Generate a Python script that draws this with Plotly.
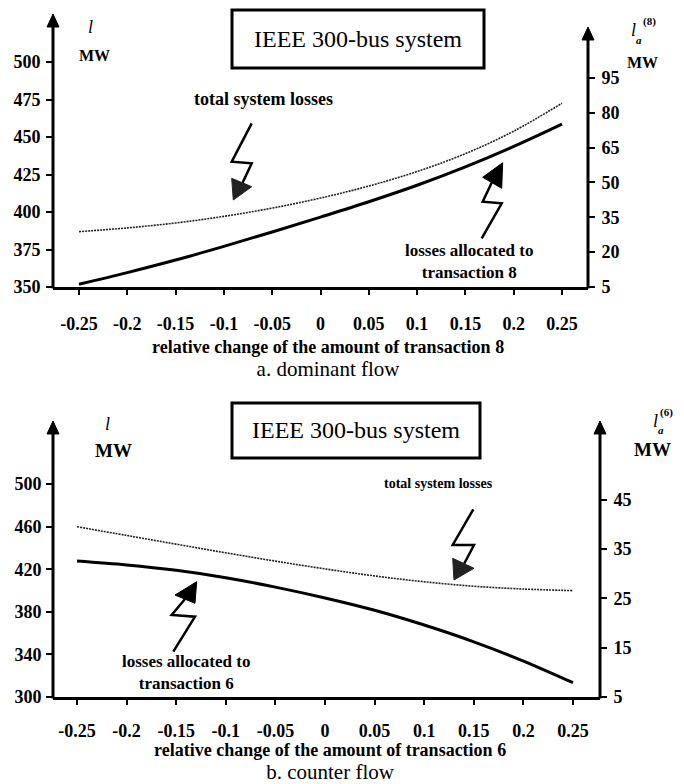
import plotly.graph_objects as go

# ---------------- data ----------------
x_vals = [-0.25, -0.2, -0.15, -0.1, -0.05, 0.0, 0.05, 0.1, 0.15, 0.2, 0.25]

# a. dominant flow (transaction 8)
total_losses_a = [386.9, 389.4, 392.7, 397.1, 402.6, 409.3, 417.3, 427.0, 438.9, 453.9, 472.5]
alloc_losses_a = [6.2, 11.2, 16.6, 22.5, 28.7, 35.1, 41.7, 48.8, 56.7, 65.5, 75.1]

# b. counter flow (transaction 6)
total_losses_b = [459.9, 451.7, 443.5, 435.4, 427.6, 420.3, 413.7, 408.2, 404.0, 401.4, 399.9]
alloc_losses_b = [32.6, 31.8, 30.7, 29.2, 27.3, 25.1, 22.6, 19.6, 16.2, 12.3, 7.9]

x_tick_vals = [-0.25, -0.2, -0.15, -0.1, -0.05, 0, 0.05, 0.1, 0.15, 0.2, 0.25]
x_tick_text = ["-0.25", "-0.2", "-0.15", "-0.1", "-0.05", "0", "0.05", "0.1", "0.15", "0.2", "0.25"]
ya_left_ticks = [350, 375, 400, 425, 450, 475, 500]
ya_right_ticks = [5, 20, 35, 50, 65, 80, 95]
yb_left_ticks = [300, 340, 380, 420, 460, 500]
yb_right_ticks = [5, 15, 25, 35, 45]

# ---------------- figure ----------------
W, H = 684, 784
FONT = "Liberation Serif"


def px(x):
    return x / W


def py(y):
    return 1 - y / H


def path(points, close=False):
    s = "M " + " L ".join(f"{px(a):.5f} {py(b):.5f}" for a, b in points)
    return s + (" Z" if close else "")


fig = go.Figure()

total_style = dict(color="#222222", width=1.6, dash="2px,1px", shape="spline")
alloc_style = dict(color="black", width=3, shape="spline")

fig.add_trace(go.Scatter(x=x_vals, y=total_losses_a, mode="lines", line=total_style,
                         xaxis="x", yaxis="y", hoverinfo="skip"))
fig.add_trace(go.Scatter(x=x_vals, y=alloc_losses_a, mode="lines", line=alloc_style,
                         xaxis="x", yaxis="y2", hoverinfo="skip"))
fig.add_trace(go.Scatter(x=x_vals, y=total_losses_b, mode="lines", line=total_style,
                         xaxis="x2", yaxis="y3", hoverinfo="skip"))
fig.add_trace(go.Scatter(x=x_vals, y=alloc_losses_b, mode="lines", line=alloc_style,
                         xaxis="x2", yaxis="y4", hoverinfo="skip"))

tickfont = dict(family=FONT, size=18, color="black", weight="bold")

common_x = dict(tickvals=x_tick_vals, ticktext=x_tick_text, ticks="outside", ticklen=5,
                tickwidth=2, tickcolor="black", showline=True, linewidth=3, linecolor="black",
                showgrid=False, zeroline=False, tickfont=tickfont, fixedrange=True,
                automargin=False)
common_y = dict(ticks="outside", ticklen=6, tickwidth=2, tickcolor="black", showline=False,
                showgrid=False, zeroline=False, tickfont=tickfont, fixedrange=True,
                automargin=False)

fig.update_layout(
    width=W, height=H, autosize=False,
    margin=dict(l=0, r=0, t=0, b=0, pad=0),
    paper_bgcolor="white", plot_bgcolor="white",
    showlegend=False,
    xaxis=dict(domain=[px(53), px(588)], anchor="y", range=[-0.2769, 0.2769],
               ticklabelstandoff=13, **common_x),
    yaxis=dict(domain=[py(287), py(15)], anchor="x", range=[350, 531.33],
               tickvals=ya_left_ticks, ticklabelstandoff=2, **common_y),
    yaxis2=dict(overlaying="y", side="right", anchor="x", range=[5, 122.1],
                tickvals=ya_right_ticks, ticklabelstandoff=3, **common_y),
    xaxis2=dict(domain=[px(53), px(600)], anchor="y3", range=[-0.2742, 0.2772],
                ticklabelstandoff=10, **common_x),
    yaxis3=dict(domain=[py(697), py(423)], anchor="x2", range=[300, 557.3],
                tickvals=yb_left_ticks, ticklabelstandoff=1, **common_y),
    yaxis4=dict(overlaying="y3", side="right", anchor="x2", range=[5, 60.6],
                tickvals=yb_right_ticks, ticklabelstandoff=3, **common_y),
)

shapes = []


def vline_arrow(x, y0, ytip, half=6, head=13):
    shapes.append(dict(type="line", xref="paper", yref="paper", x0=px(x), x1=px(x),
                       y0=py(y0), y1=py(ytip + head - 2), line=dict(color="black", width=3)))
    shapes.append(dict(type="path", xref="paper", yref="paper",
                       path=path([(x - half, ytip + head), (x, ytip), (x + half, ytip + head)], True),
                       fillcolor="black", line=dict(color="black", width=1)))


vline_arrow(53, 288.5, 14)
vline_arrow(588, 288.5, 27)
vline_arrow(53, 698.5, 421)
vline_arrow(600, 698.5, 421)


def lightning(points, tri, color="black"):
    shapes.append(dict(type="path", xref="paper", yref="paper", path=path(points),
                       line=dict(color="black", width=2.5)))
    shapes.append(dict(type="path", xref="paper", yref="paper", path=path(tri, True),
                       fillcolor=color, line=dict(color=color, width=1)))


lightning([(251.7, 123.3), (231.7, 161.7), (251.7, 163.3), (242, 184)],
          [(231.7, 178.3), (251.7, 186.7), (233.3, 200)], "#222222")
lightning([(481.7, 238.3), (501.7, 203.3), (482.7, 201.7), (492, 182)],
          [(502.7, 162.7), (482.7, 177.3), (501.7, 188.3)])
lightning([(473.3, 509.3), (452.7, 545), (474, 545), (464, 564)],
          [(452.7, 558.3), (474, 568.3), (454, 580)], "#222222")
lightning([(173.3, 651.7), (195, 616.7), (171.7, 615), (185, 599)],
          [(196.7, 581.7), (175, 595), (195, 603.3)])

# title boxes
shapes.append(dict(type="rect", xref="paper", yref="paper", x0=px(232), x1=px(484),
                   y0=py(68), y1=py(10), line=dict(color="black", width=3)))
shapes.append(dict(type="rect", xref="paper", yref="paper", x0=px(232), x1=px(480),
                   y0=py(458), y1=py(403), line=dict(color="black", width=3)))

fig.update_layout(shapes=shapes)

annotations = []


def text(x, y, s, size=17, bold=False, xanchor="center"):
    annotations.append(dict(xref="paper", yref="paper", x=px(x), y=py(y), text=s,
                            showarrow=False, xanchor=xanchor, yanchor="middle",
                            font=dict(family=FONT, size=size, color="black",
                                      weight="bold" if bold else "normal")))


CAPTION = "<br><span style='font-size:21px;font-weight:normal'>{}</span>"

# top panel texts
text(358, 39, "IEEE 300-bus system", 24)
text(263, 99, "total system losses", 18, True)
text(469, 261, "losses allocated to<br>transaction 8", 17, True)
text(328, 359, "relative change of the amount of transaction 8" + CAPTION.format("a. dominant flow"),
     18, True)
text(90, 27, "<i>l</i>", 18)
text(94, 55, "MW", 16, True)
text(633, 30, "<i>l</i>", 18)
text(649, 21, "(8)", 11, True)
text(639, 40, "<i>a</i>", 11, True)
text(642, 62, "MW", 16, True)

# bottom panel texts
text(356, 430, "IEEE 300-bus system", 24)
text(438, 483, "total system losses", 14, True)
text(186, 672, "losses allocated to<br>transaction 6", 17, True)
text(330, 762, "relative change of the amount of transaction 6" + CAPTION.format("b. counter flow"),
     18, True)
text(107, 424, "<i>l</i>", 18)
text(113, 450, "MW", 19, True)
text(655, 421, "<i>l</i>", 18)
text(666, 412, "(6)", 11, True)
text(661, 430, "<i>a</i>", 11, True)
text(652, 449, "MW", 19, True)

fig.update_layout(annotations=annotations)

fig.write_html("out.html", config={"displayModeBar": False},
               post_script="document.body.style.margin='0px';")
